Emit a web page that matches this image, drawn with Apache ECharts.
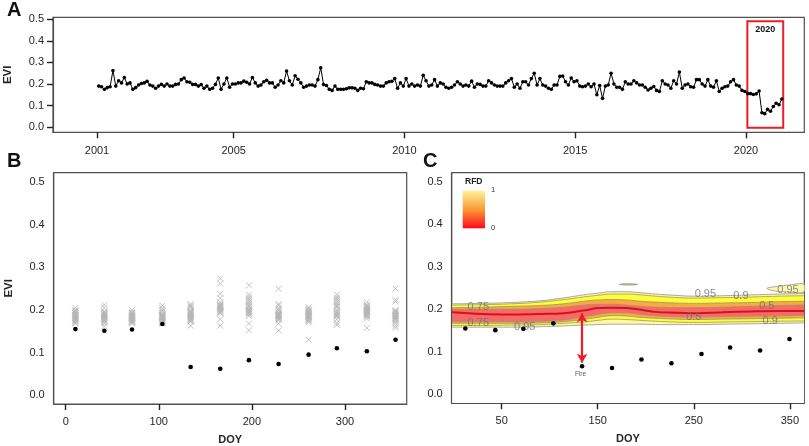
<!DOCTYPE html>
<html>
<head>
<meta charset="utf-8">
<style>html,body{margin:0;padding:0;background:#fff}#main{width:809px;height:446px}</style>
<script src="https://cdn.jsdelivr.net/npm/echarts@6/dist/echarts.min.js"></script>
</head>
<body>
<div id="main"></div>
<script>
"use strict";
// panel A, monthly EVI, one row per year
let evi2001 = [.19,.187,.175,.183,.187,.262,.19,.215,.205,.23,.2,.205];
let evi2002 = [.175,.183,.195,.202,.205,.212,.195,.19,.18,.19,.198,.19];
let evi2003 = [.2,.19,.19,.198,.2,.22,.228,.21,.208,.198,.198,.19];
let evi2004 = [.197,.18,.19,.175,.18,.198,.228,.175,.2,.228,.185,.2];
let evi2005 = [.2,.205,.205,.213,.208,.2,.23,.205,.19,.195,.21,.217];
let evi2006 = [.205,.205,.185,.195,.215,.205,.26,.215,.195,.238,.222,.205];
let evi2007 = [.185,.19,.195,.195,.19,.22,.275,.197,.193,.175,.17,.19];
let evi2008 = [.175,.175,.175,.178,.182,.182,.18,.17,.18,.178,.21,.205];
let evi2009 = [.205,.198,.195,.19,.19,.205,.21,.212,.225,.18,.205,.19];
let evi2010 = [.225,.19,.2,.19,.195,.19,.24,.215,.19,.195,.22,.19];
let evi2011 = [.205,.2,.185,.18,.185,.195,.21,.2,.19,.195,.19,.213];
let evi2012 = [.185,.2,.198,.19,.19,.215,.205,.195,.19,.19,.19,.205];
let evi2013 = [.215,.225,.185,.2,.18,.21,.21,.195,.225,.25,.195,.225];
let evi2014 = [.195,.19,.18,.175,.195,.195,.235,.237,.21,.195,.228,.21];
let evi2015 = [.215,.19,.187,.19,.2,.187,.2,.15,.193,.133,.19,.195];
let evi2016 = [.25,.2,.185,.185,.175,.21,.2,.2,.215,.205,.195,.195];
let evi2017 = [.185,.172,.18,.188,.17,.165,.215,.2,.195,.18,.215,.2];
let evi2018 = [.255,.18,.195,.2,.187,.185,.22,.22,.2,.19,.22,.19];
let evi2019 = [.185,.215,.165,.18,.187,.19,.21,.22,.195,.19,.17,.165,.155];
let evi2020 = [.155,.151,.154,.167,.066,.062,.082,.073,.095,.11,.103,.13];
let startYear = 2001.05;

// panel B, grey crosses: one list per DOY column (earlier years)
let pastEvi = [
  [.205,.198,.196,.194,.192,.19,.188,.186,.184,.182,.181,.18,.178,.176,.175,.172,.17,.168,.2,.187],
  [.212,.205,.197,.195,.193,.191,.189,.187,.186,.184,.183,.181,.179,.178,.176,.174,.172,.168,.162,.19],
  [.2,.195,.192,.19,.188,.186,.185,.183,.182,.18,.179,.178,.176,.175,.173,.172,.17,.168,.184,.193],
  [.21,.204,.197,.193,.19,.188,.186,.185,.184,.182,.181,.18,.178,.176,.174,.172,.17,.168,.2,.187],
  [.214,.21,.205,.2,.197,.194,.192,.19,.188,.186,.184,.182,.18,.178,.176,.174,.163,.172,.208,.195],
  [.274,.262,.238,.228,.218,.214,.212,.21,.208,.206,.204,.202,.2,.198,.196,.194,.192,.178,.163,.21],
  [.258,.236,.23,.226,.222,.218,.214,.21,.206,.202,.198,.196,.194,.192,.19,.186,.168,.152,.2,.208],
  [.25,.214,.21,.204,.198,.194,.192,.19,.188,.186,.185,.184,.182,.18,.178,.176,.168,.152,.2,.187],
  [.206,.203,.2,.197,.195,.192,.19,.188,.186,.184,.182,.18,.178,.176,.174,.171,.13,.193,.185,.198],
  [.236,.23,.226,.222,.218,.214,.21,.206,.196,.194,.192,.19,.188,.186,.184,.17,.165,.178,.2,.208],
  [.218,.212,.208,.206,.204,.202,.2,.198,.196,.194,.192,.19,.188,.186,.184,.18,.158,.2,.195,.21],
  [.25,.224,.22,.2,.196,.194,.19,.187,.185,.182,.18,.176,.172,.168,.163,.158,.198,.192,.186,.178]
];
let doyB = [10.4,41.5,71.2,103.8,134.2,166,196.8,228.7,260.9,291.3,323.5,354.3];
let doyC = [12.2,43.4,72.6,103.8,133.7,164.9,195.5,226.7,258,287.8,319,349.6];

// panel C, contour lines of the RFD surface
let knots = [-2,30,60,90,115,135,150,165,180,195,210,230,250,280,310,340,364.6];
let top95 = [.213,.214,.216,.22,.227,.234,.238,.2415,.2415,.239,.236,.233,.231,.232,.234,.236,.237];
let top90 = [.21,.211,.213,.217,.223,.229,.233,.236,.236,.234,.231,.228,.2265,.2275,.229,.231,.232];
let top75 = [.204,.205,.207,.209,.213,.219,.222,.223,.222,.219,.217,.215,.214,.215,.216,.218,.219];
let top50 = [.2,.2,.2,.202,.205,.21,.212,.212,.21,.207,.205,.204,.204,.205,.207,.209,.21];
let median = [.193,.189,.188,.189,.191,.197,.203,.204,.203,.199,.194,.192,.191,.193,.195,.196,.196];
let low50 = [.171,.171,.171,.172,.175,.182,.188,.192,.192,.188,.185,.183,.182,.183,.184,.185,.186];
let low75 = [.167,.167,.167,.168,.171,.176,.181,.185,.184,.181,.179,.177,.176,.177,.178,.179,.18];
let low90 = [.162,.162,.163,.164,.167,.17,.174,.177,.176,.174,.172,.17,.169,.17,.171,.172,.1725];
let low95 = [.158,.158,.158,.159,.161,.163,.164,.165,.165,.165,.164,.164,.164,.165,.166,.167,.168];
let islandMid = [[172.6,.2586],[178,.2603],[186,.2601],[191.7,.2586],[186,.2572],[178,.2572]];
let islandRight = [[326,.2494],[335,.2535],[350,.2575],[364.4,.2595],[364.4,.2405],[350,.2405],[335,.243]];
let contourLabels = [
  ["0.75",25.7,.205],["0.75",25.7,.1675],["0.95",74,.1596],["0.95",262,.2366],
  ["0.9",299,.2303],["0.95",348,.246],["0.5",326,.2068],["0.5",250,.183],["0.9",329.5,.173]
];
let fireDoy = 133.7;
let fireTop = .1905;
let fireBottom = .0745;

let font = "Liberation Sans";
let frameColor = "#505050";
let tickColor = "#222";
let textColor = "#262626";
let contourColor = "#96967f";
let crossPath = "path://M0 0L10 10M0 10L10 0";

let monthly = [].concat(evi2001,evi2002,evi2003,evi2004,evi2005,evi2006,evi2007,evi2008,evi2009,
  evi2010,evi2011,evi2012,evi2013,evi2014,evi2015,evi2016,evi2017,evi2018,evi2019,evi2020);
let monthlyData = monthly.map(function (v, i) { return [startYear + i / 12, v]; });

function xAxisOf(gridIndex, min, max, ticks, name, margin) {
    return {
        type: "value", gridIndex: gridIndex, min: min, max: max, z: 5,
        name: name, nameLocation: "middle", nameGap: 30,
        nameTextStyle: {fontFamily: font, fontWeight: "bold", fontSize: 11, color: textColor},
        axisLine: {onZero: false, lineStyle: {color: frameColor, width: 1.2}},
        axisTick: {show: true, length: 6, lineStyle: {color: tickColor, width: 1.4}, customValues: ticks},
        axisLabel: {customValues: ticks, color: textColor, fontFamily: font, fontSize: 11, margin: margin,
            showMinLabel: true, showMaxLabel: true, formatter: function (v) { return String(v); }},
        splitLine: {show: false}
    };
}
function yAxisOf(gridIndex, min, max, tickLen, name) {
    let ticks = [0, .1, .2, .3, .4, .5];
    return {
        type: "value", gridIndex: gridIndex, min: min, max: max, z: 5,
        name: name, nameLocation: "middle", nameGap: 39, nameRotate: 90,
        nameTextStyle: {fontFamily: font, fontWeight: "bold", fontSize: 11.5, color: textColor},
        axisLine: {onZero: false, lineStyle: {color: frameColor, width: 1.2}},
        axisTick: {show: tickLen > 0, length: tickLen, lineStyle: {color: tickColor, width: 1.4}, customValues: ticks},
        axisLabel: {customValues: ticks, color: textColor, fontFamily: font, fontSize: 11, margin: 9,
            formatter: function (v) { return v.toFixed(1); }},
        splitLine: {show: false}
    };
}
// each contour fills everything under it, the next one paints over
function contourSeries(values, fill) {
    return {
        type: "line", xAxisIndex: 2, yAxisIndex: 2, smooth: .4, showSymbol: false, silent: true,
        data: knots.map(function (d, i) { return [d, values[i]]; }),
        lineStyle: {color: contourColor, width: .8},
        areaStyle: {color: fill, opacity: 1, origin: "start"}
    };
}
function islandSeries(points, fill) {
    return {
        type: "custom", xAxisIndex: 2, yAxisIndex: 2, silent: true, clip: true,
        data: [0],
        renderItem: function (params, api) {
            return {
                type: "polygon",
                shape: {points: points.map(function (p) { return api.coord(p); }), smooth: .3},
                style: {fill: fill, stroke: contourColor, lineWidth: .8}
            };
        }
    };
}
function dotSeries(axis, doys) {
    return {
        type: "scatter", xAxisIndex: axis, yAxisIndex: axis, symbol: "circle", symbolSize: 4.6, z: 6,
        itemStyle: {color: "#000", opacity: 1},
        data: doys.map(function (d, i) { return [d, evi2020[i]]; })
    };
}

let crosses = [];
pastEvi.forEach(function (col, i) {
    col.forEach(function (v) { crosses.push([doyB[i], v]); });
});

let myChart = echarts.init(document.getElementById("main"), null, {renderer: "canvas"});
let panelTitle = function (text, left, top) {
    return {text: text, left: left, top: top, padding: 0,
        textStyle: {fontFamily: font, fontWeight: "bold", fontSize: 20, color: "#111"}};
};
let gridStyle = {show: true, borderColor: frameColor, borderWidth: 1.2, backgroundColor: "transparent", outerBoundsMode: "none"};
let option = {
    animation: false,
    backgroundColor: "#fff",
    title: [panelTitle("A", 7, 0), panelTitle("B", 7, 151), panelTitle("C", 423, 151)],
    grid: [
        Object.assign({left: 53, top: 17.3, width: 751.3, height: 115}, gridStyle),
        Object.assign({left: 53.7, top: 172.7, width: 353, height: 231.3}, gridStyle),
        Object.assign({left: 451.7, top: 172.7, width: 352.6, height: 230.6}, gridStyle)
    ],
    xAxis: [
        xAxisOf(0, 1999.712, 2021.707, [2001, 2005, 2010, 2015, 2020], "", 13),
        xAxisOf(1, -12.9, 366.3, [0, 100, 200, 300], "DOY", 12),
        xAxisOf(2, -2, 365, [50, 150, 250, 350], "DOY", 12)
    ],
    yAxis: [
        yAxisOf(0, -.0247, .5098, 6, "EVI"),
        yAxisOf(1, -.021, .5226, 0, "EVI"),
        yAxisOf(2, -.0212, .5216, 0, "")
    ],
    series: [
        {
            type: "line", xAxisIndex: 0, yAxisIndex: 0, data: monthlyData, symbol: "circle", symbolSize: 3.6,
            lineStyle: {color: "#000", width: 1}, itemStyle: {color: "#000"},
            markArea: {
                silent: true,
                itemStyle: {color: "transparent", borderColor: "#ee1c25", borderWidth: 2},
                label: {show: true, position: "insideTop", distance: 5, formatter: "2020", color: "#111",
                    fontFamily: font, fontWeight: "bold", fontSize: 9},
                data: [[{xAxis: 2020.04, yAxis: .4916}, {xAxis: 2021.09, yAxis: -.003}]]
            }
        },
        {
            type: "scatter", xAxisIndex: 1, yAxisIndex: 1, data: crosses, symbol: crossPath, symbolSize: 6,
            itemStyle: {color: "none", borderColor: "#b4b4b4", borderWidth: .8, opacity: 1}
        },
        dotSeries(1, doyB),
        islandSeries(islandMid, "#c9c9a0"),
        islandSeries(islandRight, "#fff8b0"),
        contourSeries(top95, "#fff7a6"),
        contourSeries(top90, "#ffff33"),
        contourSeries(top75, "#fba83e"),
        contourSeries(top50, "#f86a68"),
        contourSeries(low50, "#fba83e"),
        contourSeries(low75, "#ffff33"),
        contourSeries(low90, "#fff7a6"),
        contourSeries(low95, "#ffffff"),
        {
            type: "line", xAxisIndex: 2, yAxisIndex: 2, smooth: .4, showSymbol: false, silent: true,
            data: knots.map(function (d, i) { return [d, median[i]]; }),
            lineStyle: {color: "#d8101a", width: 2}
        },
        {
            type: "scatter", xAxisIndex: 2, yAxisIndex: 2, symbolSize: 0, silent: true, z: 4,
            data: contourLabels.map(function (l) { return {value: [l[1], l[2]], name: l[0]}; }),
            label: {show: true, position: "inside", formatter: "{b}", color: "#6f6f6f", fontFamily: font, fontSize: 11}
        },
        dotSeries(2, doyC),
        {
            type: "scatter", xAxisIndex: 2, yAxisIndex: 2, symbolSize: 0, silent: true, z: 6,
            data: [{value: [fireDoy - 1.6, .0475], name: "Fire"}],
            label: {show: true, position: "inside", formatter: "{b}", color: "#333", fontFamily: font, fontSize: 6.5},
            markLine: {
                silent: true, animation: false, symbol: ["arrow", "arrow"], symbolSize: [8, 9],
                label: {show: false},
                lineStyle: {color: "#ee1c25", width: 2.2, type: "solid", opacity: 1},
                data: [[{coord: [fireDoy, fireTop]}, {coord: [fireDoy, fireBottom]}]]
            }
        }
    ],
    // RFD colour key
    graphic: [
        {type: "rect", left: 462.7, top: 190.7, z: 10, shape: {width: 22.3, height: 37.6},
            style: {fill: new echarts.graphic.LinearGradient(0, 0, 0, 1, [
                {offset: 0, color: "#fff29a"}, {offset: .5, color: "#fb9a35"}, {offset: 1, color: "#ff0a1c"}])}},
        {type: "text", left: 465, top: 177, z: 10, style: {text: "RFD", font: "bold 8.5px 'Liberation Sans'", fill: "#222"}},
        {type: "text", left: 491, top: 186, z: 10, style: {text: "1", font: "7.5px 'Liberation Sans'", fill: "#333"}},
        {type: "text", left: 491, top: 224, z: 10, style: {text: "0", font: "7.5px 'Liberation Sans'", fill: "#333"}}
    ]
};
myChart.setOption(option);
</script>
</body>
</html>
